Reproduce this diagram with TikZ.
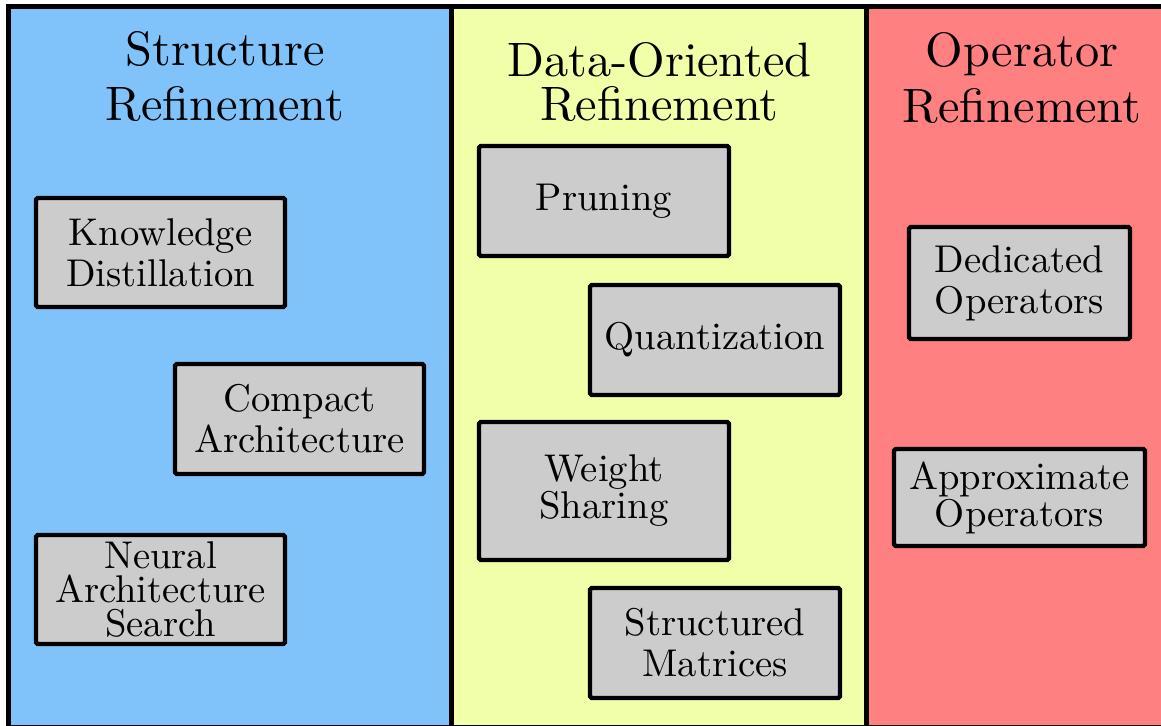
\documentclass[tikz,border=0pt]{standalone}
\usepackage{amssymb,amsmath}
\usepackage{fontspec}
\setmainfont{lmroman10-regular}[Extension=.otf]
\usepackage{tikz}

\definecolor{colblue}{RGB}{128,195,250}
\definecolor{colyellow}{RGB}{240,255,168}
\definecolor{colred}{RGB}{255,128,128}
\definecolor{boxgray}{RGB}{204,204,204}

\begin{document}
\begin{tikzpicture}[x=0.02cm,y=-0.02cm,
	column/.style={draw=black,line width=2.85pt},
	method/.style={draw=black,fill=boxgray,line width=2.5pt,rounded corners=1pt,
		align=center,inner sep=0pt,font=\fontsize{22}{23.3}\selectfont},
	heading/.style={align=center,inner sep=0pt}]
	\useasboundingbox (0,0) rectangle (1161,725);
	
	% the three columns
	\draw[column,fill=colblue] (8.5,6.5) rectangle (451.5,727);
	\draw[column,fill=colyellow] (451.5,6.5) rectangle (866.5,727);
	\draw[column,fill=colred] (866.5,6.5) rectangle (1180,727);
	
	% headings
	\node[heading,font=\fontsize{27.5}{31.3}\selectfont] (tstruct) at (225,76) {Structure\\Refinement};
	\node[heading,font=\fontsize{27.5}{25}\selectfont] (tdata) at (659.5,82) {Data-Oriented\\Refinement};
	\node[heading,font=\fontsize{27.5}{32.4}\selectfont] (toper) at (1022,78) {Operator\\Refinement};
	
	% structure refinement
	\node[method,minimum width=4.98cm,minimum height=2.18cm] (kd) at (160.5,252.5) {Knowledge\\Distillation};
	\node[method,minimum width=4.98cm,minimum height=2.2cm] (ca) at (299.5,419) {Compact\\Architecture};
	\node[method,minimum width=4.98cm,minimum height=2.18cm,font=\fontsize{22}{19.5}\selectfont] (nas) at (160.5,589.5) {Neural\\Architecture\\Search};
	
	% data-oriented refinement
	\node[method,minimum width=5cm,minimum height=2.2cm] (prun) at (604,201) {Pruning};
	\node[method,minimum width=5cm,minimum height=2.2cm] (quant) at (715,340) {Quantization};
	\node[method,minimum width=5cm,minimum height=2.76cm,font=\fontsize{22}{19.9}\selectfont] (ws) at (604,491) {Weight\\Sharing};
	\node[method,minimum width=5cm,minimum height=2.2cm] (sm) at (715,643) {Structured\\Matrices};
	
	% operator refinement
	\node[method,minimum width=4.42cm,minimum height=2.24cm] (dedop) at (1019.5,283) {Dedicated\\Operators};
	\node[method,minimum width=5.02cm,minimum height=1.94cm,font=\fontsize{22}{21}\selectfont] (apxop) at (1019.5,497.5) {Approximate\\Operators};
\end{tikzpicture}
\end{document}
